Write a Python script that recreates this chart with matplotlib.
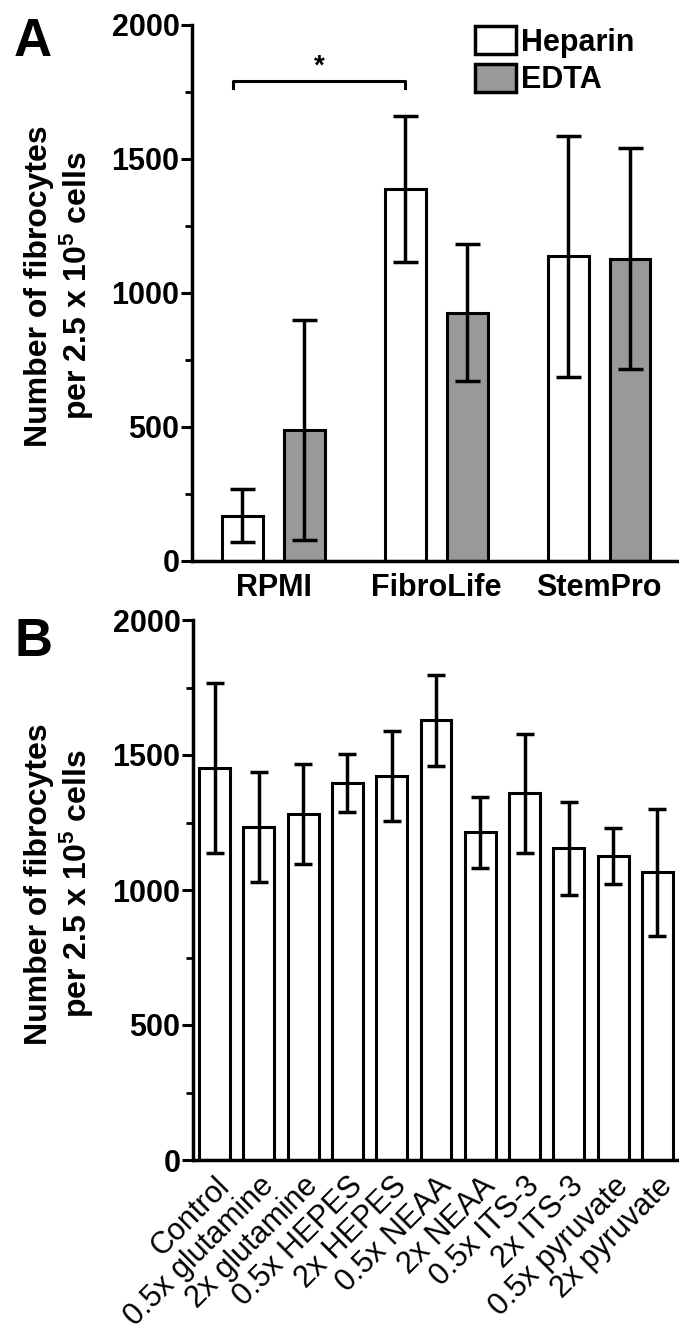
import numpy as np
import matplotlib
matplotlib.use("Agg")
import matplotlib.pyplot as plt
from matplotlib.ticker import MultipleLocator
from matplotlib.patches import Patch

plt.rcParams["font.family"] = ["Liberation Sans", "DejaVu Sans"]
plt.rcParams["font.weight"] = "bold"
plt.rcParams["mathtext.fontset"] = "custom"
plt.rcParams["mathtext.rm"] = "Liberation Sans:bold"
plt.rcParams["mathtext.default"] = "regular"

# ── Data ──────────────────────────────────────────────────────────────────────
media = ["RPMI", "FibroLife", "StemPro"]
heparin_mean = [169, 1387, 1137]
heparin_err = [98, 272, 450]
edta_mean = [490, 926, 1128]
edta_err = [410, 255, 412]

conditions = ["Control", "0.5x glutamine", "2x glutamine", "0.5x HEPES",
              "2x HEPES", "0.5x NEAA", "2x NEAA", "0.5x ITS-3", "2x ITS-3",
              "0.5x pyruvate", "2x pyruvate"]
cond_mean = [1453, 1233, 1281, 1396, 1423, 1628, 1214, 1358, 1154, 1126, 1065]
cond_err = [315, 205, 185, 108, 166, 167, 131, 221, 172, 102, 236]

GREY = "#999999"
FS = 22
LW = 2.2
H = 1343.0

fig = plt.figure(figsize=(6.79, 13.43), dpi=100)


def style_axis(ax):
    for side in ("top", "right"):
        ax.spines[side].set_visible(False)
    for side in ("left", "bottom"):
        ax.spines[side].set_linewidth(2.5)
    ax.set_ylim(0, 2000)
    ax.yaxis.set_major_locator(MultipleLocator(500))
    ax.yaxis.set_minor_locator(MultipleLocator(250))
    ax.tick_params(axis="y", which="major", length=8, width=2.2,
                   labelsize=FS, pad=1)
    ax.tick_params(axis="y", which="minor", length=5, width=2.0)
    ax.tick_params(axis="x", length=0, labelsize=FS)


ylabel = "Number of fibrocytes\nper 2.5 x 10$^{5}$ cells"

# ── Panel A ───────────────────────────────────────────────────────────────────
axA = fig.add_axes([192 / 679, 1 - 561 / H, 1 - 192 / 679, (561 - 25) / H])
x = np.arange(len(media))
w = 0.25
off = 0.19
ekw = dict(elinewidth=2.5, capthick=2.5, ecolor="black")
axA.bar(x - off, heparin_mean, w, color="white", edgecolor="black", lw=LW,
        yerr=heparin_err, capsize=9, error_kw=ekw, zorder=2)
axA.bar(x + off, edta_mean, w, color=GREY, edgecolor="black", lw=LW,
        yerr=edta_err, capsize=9, error_kw=ekw, zorder=2)
axA.set_xlim(-0.5, 2.49)
axA.set_xticks(x)
axA.set_xticklabels(media)
style_axis(axA)
axA.tick_params(axis="x", pad=9)

# significance bracket
bx0, bx1, by = -0.25, 1 - off, 1791
axA.plot([bx0, bx0, bx1, bx1], [by - 25, by, by, by - 25], color="black",
         lw=2.2, clip_on=False)
axA.text((bx0 + bx1) / 2, by + 5, "*", ha="center", va="bottom", fontsize=20)

handles = [Patch(facecolor="white", edgecolor="black", lw=2.5, label="Heparin"),
           Patch(facecolor=GREY, edgecolor="black", lw=2.5, label="EDTA")]
fig.legend(handles=handles, loc="upper left", bbox_to_anchor=(475 / 679, 1 - 26 / H),
           frameon=False, fontsize=FS, handlelength=1.35, handleheight=1.05,
           handletextpad=0.15, labelspacing=0.2, borderpad=0, borderaxespad=0)

fig.text(60 / 679, 1 - 286 / H, ylabel, rotation=90, ha="center", va="center",
         fontsize=23, multialignment="center", linespacing=1.1)
fig.text(14 / 679, 1 - 56 / H, "A", fontsize=38, fontweight="bold")

# ── Panel B ───────────────────────────────────────────────────────────────────
axB = fig.add_axes([193 / 679, 1 - 1160 / H, 1 - 193 / 679, (1160 - 620) / H])
xb = np.arange(len(conditions))
axB.bar(xb, cond_mean, 0.7, color="white", edgecolor="black", lw=LW,
        yerr=cond_err, capsize=6.5, error_kw=ekw, zorder=2)
axB.set_xlim(-0.49, 10.49)
axB.set_xticks(xb)
axB.set_xticklabels(conditions, rotation=45, ha="right", va="top",
                    rotation_mode="anchor", fontweight="normal", fontsize=25.5)
style_axis(axB)
axB.tick_params(axis="x", pad=8)

fig.text(60 / 679, 1 - 884 / H, ylabel, rotation=90, ha="center", va="center",
         fontsize=23, multialignment="center", linespacing=1.1)
fig.text(14 / 679, 1 - 656 / H, "B", fontsize=38, fontweight="bold")

fig.savefig("out.png", dpi=100)
